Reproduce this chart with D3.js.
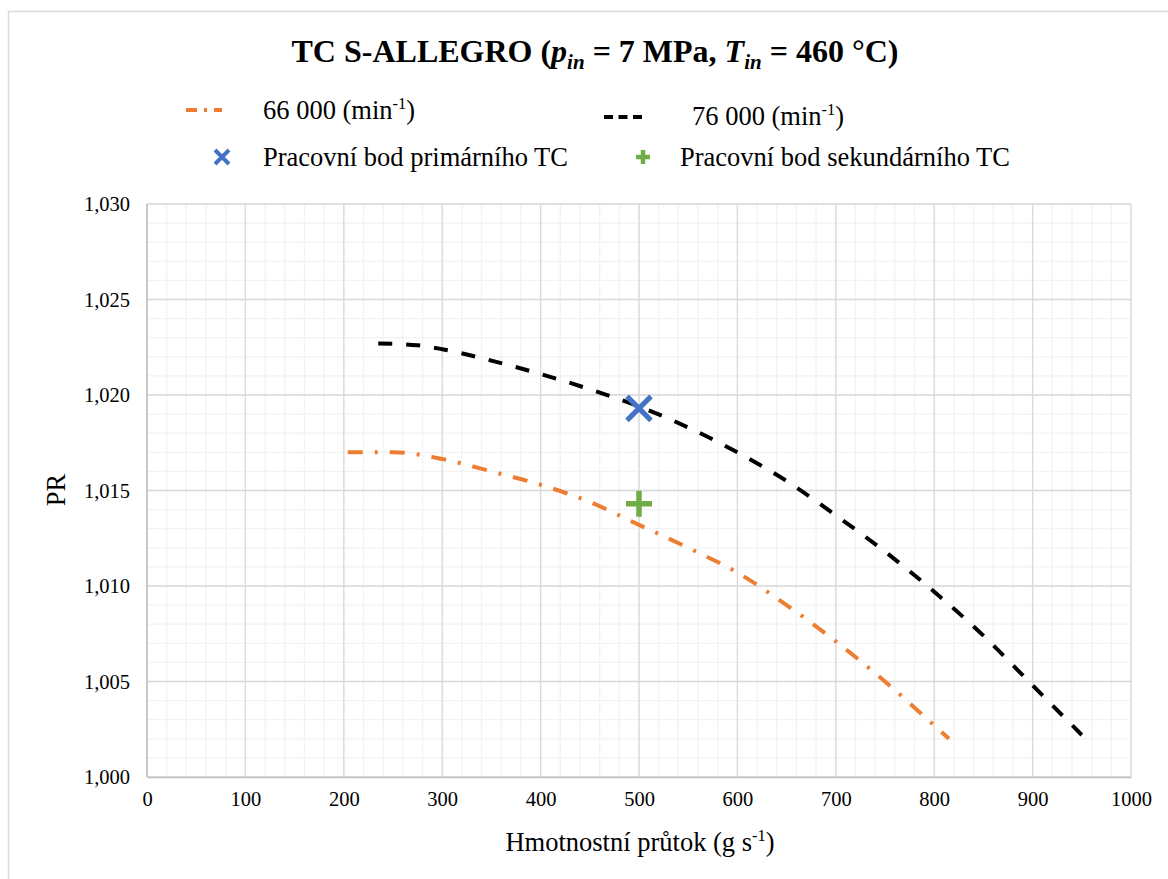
<!DOCTYPE html>
<html>
<head>
<meta charset="utf-8">
<script src="https://cdn.jsdelivr.net/npm/d3@7"></script>
<style>
  body { margin: 0; background: #fff; }
  text { font-family: "Liberation Serif", "Times New Roman", serif; fill: #000; }
</style>
</head>
<body>
<div class="chart"></div>
<script>
// curve 66 000 min-1
var flow66 = [204, 250, 300, 350, 400, 450, 500, 550, 600, 650, 700, 750, 800, 815];
var pr66 = [1.0170, 1.0170, 1.01665, 1.0160, 1.0153, 1.0144, 1.0132, 1.0120, 1.0107, 1.0090, 1.0071, 1.0050, 1.0027, 1.0020];
// curve 76 000 min-1
var flow76 = [235, 275, 300, 350, 400, 450, 500, 550, 600, 650, 700, 750, 800, 850, 900, 950];
var pr76 = [1.0227, 1.0226, 1.0224, 1.0218, 1.0211, 1.0203, 1.0194, 1.0183, 1.0170, 1.0155, 1.0137, 1.0118, 1.0097, 1.0074, 1.0048, 1.0022];
// operating points
var primaryPoint = [500, 1.0193];
var secondaryPoint = [500, 1.0143];

var xTicks = [0, 100, 200, 300, 400, 500, 600, 700, 800, 900, 1000];
var yTicks = [1.000, 1.005, 1.010, 1.015, 1.020, 1.025, 1.030];

var width = 1168, height = 879;
var plotLeft = 147, plotRight = 1131, plotTop = 204, plotBottom = 777;

var svg = d3.select(".chart").append("svg")
    .attr("width", width)
    .attr("height", height);

// chart frame
svg.append("rect")
    .attr("x", 8.5).attr("y", 11.5)
    .attr("width", width).attr("height", height)
    .attr("fill", "#fff")
    .attr("stroke", "#d9d9d9")
    .attr("stroke-width", 1.5);

var x = d3.scaleLinear().domain([0, 1000]).range([plotLeft, plotRight]);
var y = d3.scaleLinear().domain([1.000, 1.030]).range([plotBottom, plotTop]);

//minor grid
var minorX = d3.range(0, 1001, 20);
var minorY = d3.range(0, 31, 1).map(function(d){ return 1 + d / 1000; });
svg.append("g").selectAll("line").data(minorX).enter().append("line")
    .attr("x1", function(d){ return x(d); }).attr("x2", function(d){ return x(d); })
    .attr("y1", plotTop).attr("y2", plotBottom)
    .attr("stroke", "#f2f2f2").attr("stroke-width", 1.3);
svg.append("g").selectAll("line").data(minorY).enter().append("line")
    .attr("y1", function(d){ return y(d); }).attr("y2", function(d){ return y(d); })
    .attr("x1", plotLeft).attr("x2", plotRight)
    .attr("stroke", "#f2f2f2").attr("stroke-width", 1.3);

//major grid
svg.append("g").selectAll("line").data(xTicks).enter().append("line")
    .attr("x1", function(d){ return x(d); }).attr("x2", function(d){ return x(d); })
    .attr("y1", plotTop).attr("y2", plotBottom)
    .attr("stroke", "#d9d9d9").attr("stroke-width", 1.3);
svg.append("g").selectAll("line").data(yTicks).enter().append("line")
    .attr("y1", function(d){ return y(d); }).attr("y2", function(d){ return y(d); })
    .attr("x1", plotLeft).attr("x2", plotRight)
    .attr("stroke", "#d9d9d9").attr("stroke-width", 1.3);

//axes
var xAxis = svg.append("g")
    .attr("transform", "translate(0," + plotBottom + ")")
    .call(d3.axisBottom(x).tickValues(xTicks).tickSize(0).tickPadding(14)
        .tickFormat(function(d){ return d; }));
var yAxis = svg.append("g")
    .attr("transform", "translate(" + plotLeft + ",0)")
    .call(d3.axisLeft(y).tickValues(yTicks).tickSize(0).tickPadding(17)
        .tickFormat(function(d){ return d3.format(".3f")(d).replace(".", ","); }));
[xAxis, yAxis].forEach(function(a){
    a.select(".domain").attr("stroke", "#bfbfbf").attr("stroke-width", 1.5);
    a.selectAll("text").attr("font-size", "20.5px")
        .attr("font-family", "Liberation Serif");
});
yAxis.select(".domain").attr("d", "M0," + plotTop + "V" + plotBottom);

//curves
var line = d3.line().curve(d3.curveMonotoneX)
    .x(function(d){ return x(d[0]); })
    .y(function(d){ return y(d[1]); });

svg.append("path")
    .datum(d3.zip(flow66, pr66))
    .attr("d", line)
    .attr("fill", "none")
    .attr("stroke", "#ed7d31")
    .attr("stroke-width", 4)
    .attr("stroke-dasharray", "15,12,3,12");

svg.append("path")
    .datum(d3.zip(flow76, pr76))
    .attr("d", line)
    .attr("fill", "none")
    .attr("stroke", "#000")
    .attr("stroke-width", 4)
    .attr("stroke-dasharray", "14,14");

function cross(g, cx, cy, r, color, w) {
    g.append("path")
        .attr("d", "M" + (cx - r) + "," + (cy - r) + "L" + (cx + r) + "," + (cy + r) +
             "M" + (cx - r) + "," + (cy + r) + "L" + (cx + r) + "," + (cy - r))
        .attr("stroke", color).attr("stroke-width", w).attr("fill", "none");
}
function plus(g, cx, cy, r, color, w) {
    g.append("path")
        .attr("d", "M" + (cx - r) + "," + cy + "H" + (cx + r) + "M" + cx + "," + (cy - r) + "V" + (cy + r))
        .attr("stroke", color).attr("stroke-width", w).attr("fill", "none");
}

cross(svg, x(primaryPoint[0]), y(primaryPoint[1]), 12, "#4472c4", 5);
plus(svg, x(secondaryPoint[0]), y(secondaryPoint[1]), 13, "#70ad47", 5.5);

//title
var title = svg.append("text")
    .attr("x", 595).attr("y", 62)
    .attr("text-anchor", "middle")
    .attr("font-size", "32px")
    .attr("font-weight", "bold");
title.append("tspan").text("TC S-ALLEGRO (");
title.append("tspan").attr("font-style", "italic").text("p");
title.append("tspan").attr("font-style", "italic").attr("font-size", "21px").attr("dy", 7).text("in");
title.append("tspan").attr("dy", -7).text(" = 7 MPa, ");
title.append("tspan").attr("font-style", "italic").text("T");
title.append("tspan").attr("font-style", "italic").attr("font-size", "21px").attr("dy", 7).text("in");
title.append("tspan").attr("dy", -7).text(" = 460 °C)");

//legend
function supText(g, tx, ty, before, sup, after, size) {
    var t = g.append("text").attr("x", tx).attr("y", ty).attr("font-size", size + "px");
    t.append("tspan").text(before);
    t.append("tspan").attr("font-size", (size * 0.62) + "px").attr("dy", -size * 0.36).text(sup);
    t.append("tspan").attr("dy", size * 0.36).text(after);
    return t;
}
var fs = 26.5;
var legend = svg.append("g");
legend.append("line").attr("x1", 186).attr("x2", 222).attr("y1", 110).attr("y2", 110)
    .attr("stroke", "#ed7d31").attr("stroke-width", 4).attr("stroke-dasharray", "11,7,3,7");
supText(legend, 263, 119, "66 000 (min", "-1", ")", fs);
legend.append("line").attr("x1", 604).attr("x2", 642).attr("y1", 117).attr("y2", 117)
    .attr("stroke", "#000").attr("stroke-width", 4).attr("stroke-dasharray", "9,5.5");
supText(legend, 692, 125, "76 000 (min", "-1", ")", fs);
cross(legend, 222, 157, 7, "#4472c4", 4);
legend.append("text").attr("x", 263).attr("y", 166).attr("font-size", fs + "px")
    .text("Pracovní bod primárního TC");
plus(legend, 643, 157, 7, "#70ad47", 4.5);
legend.append("text").attr("x", 680).attr("y", 166).attr("font-size", fs + "px")
    .text("Pracovní bod sekundárního TC");

//axis titles
supText(svg, 640, 851, "Hmotnostní průtok (g s", "-1", ")", fs).attr("text-anchor", "middle");
svg.append("text")
    .attr("transform", "translate(65,490) rotate(-90)")
    .attr("text-anchor", "middle")
    .attr("font-size", fs + "px")
    .text("PR");
</script>
</body>
</html>
